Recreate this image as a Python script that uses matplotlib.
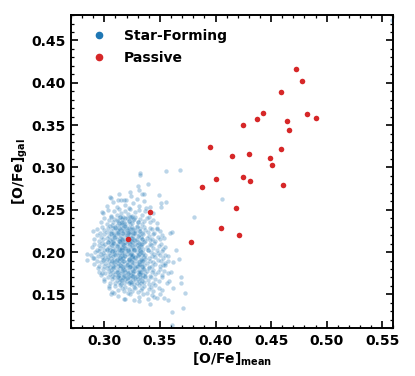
import matplotlib
matplotlib.use("Agg")
import matplotlib.pyplot as plt
from matplotlib.ticker import MultipleLocator
from matplotlib.lines import Line2D

# ---------------- data ----------------
# Passive galaxies
passive_x = [0.472, 0.478, 0.459, 0.443, 0.437, 0.482, 0.490, 0.464, 0.425, 0.466,
             0.395, 0.459, 0.430, 0.415, 0.449, 0.451, 0.400, 0.425, 0.431, 0.388,
             0.461, 0.418, 0.341, 0.405, 0.421, 0.321, 0.378]
passive_y = [0.4165, 0.4024, 0.3886, 0.3642, 0.3575, 0.3626, 0.3579, 0.3551, 0.3496, 0.3445,
             0.3244, 0.3220, 0.3161, 0.3130, 0.3110, 0.3031, 0.2858, 0.2890, 0.2843, 0.2768,
             0.2787, 0.2520, 0.2469, 0.2287, 0.2197, 0.2157, 0.2122]

# Star-forming galaxies (read band by band from the cloud)
sf_x = [
    0.306, 0.313, 0.318, 0.324, 0.329, 0.334,
    0.302, 0.308, 0.311, 0.315, 0.319, 0.322, 0.326, 0.331, 0.336, 0.341,
    0.299, 0.303, 0.306, 0.309, 0.311, 0.313, 0.315, 0.317, 0.319, 0.321,
    0.323, 0.325, 0.328, 0.331, 0.334, 0.337, 0.340, 0.344,
    0.297, 0.300, 0.302, 0.304, 0.306, 0.308, 0.309, 0.311, 0.312, 0.314,
    0.315, 0.316, 0.318, 0.319, 0.320, 0.322, 0.323, 0.325, 0.326, 0.328,
    0.330, 0.332, 0.334, 0.336, 0.338, 0.341, 0.344, 0.347,
    0.293, 0.296, 0.298, 0.300, 0.302, 0.303, 0.305, 0.306, 0.308, 0.309,
    0.310, 0.311, 0.312, 0.313, 0.314, 0.315, 0.316, 0.317, 0.318, 0.319,
    0.320, 0.321, 0.322, 0.323, 0.324, 0.325, 0.326, 0.328, 0.329, 0.331,
    0.332, 0.334, 0.336, 0.337, 0.339, 0.341, 0.343, 0.345, 0.347, 0.350,
    0.291, 0.293, 0.295, 0.297, 0.299, 0.300, 0.302, 0.303, 0.304, 0.305,
    0.306, 0.307, 0.308, 0.309, 0.310, 0.311, 0.312, 0.313, 0.314, 0.315,
    0.316, 0.317, 0.318, 0.319, 0.320, 0.321, 0.322, 0.323, 0.324, 0.325,
    0.326, 0.327, 0.328, 0.329, 0.330, 0.331, 0.333, 0.334, 0.335, 0.337,
    0.338, 0.340, 0.341, 0.343, 0.344, 0.346, 0.348, 0.350, 0.352, 0.354,
    0.289, 0.291, 0.293, 0.295, 0.296, 0.298, 0.299, 0.300, 0.301, 0.302,
    0.303, 0.304, 0.305, 0.306, 0.307, 0.308, 0.309, 0.310, 0.311, 0.312,
    0.313, 0.314, 0.315, 0.316, 0.317, 0.318, 0.319, 0.320, 0.321, 0.322,
    0.323, 0.324, 0.325, 0.326, 0.327, 0.328, 0.329, 0.330, 0.331, 0.332,
    0.333, 0.334, 0.335, 0.336, 0.338, 0.339, 0.341, 0.342, 0.344, 0.345,
    0.347, 0.349, 0.351, 0.353, 0.355,
    0.288, 0.290, 0.292, 0.294, 0.295, 0.297, 0.298, 0.299, 0.300, 0.301,
    0.302, 0.303, 0.304, 0.305, 0.306, 0.307, 0.308, 0.309, 0.310, 0.311,
    0.312, 0.313, 0.314, 0.315, 0.316, 0.317, 0.318, 0.319, 0.320, 0.321,
    0.322, 0.323, 0.324, 0.325, 0.326, 0.327, 0.328, 0.329, 0.330, 0.331,
    0.332, 0.333, 0.334, 0.335, 0.336, 0.337, 0.339, 0.340, 0.342, 0.343,
    0.345, 0.346, 0.348, 0.350, 0.352, 0.353, 0.355, 0.357,
    0.291, 0.293, 0.295, 0.297, 0.299, 0.300, 0.301, 0.302, 0.303, 0.304,
    0.305, 0.306, 0.307, 0.308, 0.309, 0.310, 0.311, 0.312, 0.313, 0.314,
    0.315, 0.316, 0.317, 0.318, 0.319, 0.320, 0.321, 0.322, 0.323, 0.324,
    0.325, 0.326, 0.327, 0.328, 0.329, 0.330, 0.331, 0.332, 0.333, 0.334,
    0.335, 0.336, 0.337, 0.338, 0.340, 0.341, 0.343, 0.344, 0.346, 0.348,
    0.350, 0.351, 0.353, 0.355, 0.357,
    0.295, 0.297, 0.299, 0.301, 0.302, 0.304, 0.305, 0.306, 0.307, 0.308,
    0.309, 0.310, 0.311, 0.312, 0.313, 0.314, 0.315, 0.316, 0.317, 0.318,
    0.319, 0.320, 0.321, 0.322, 0.323, 0.324, 0.325, 0.326, 0.327, 0.328,
    0.329, 0.330, 0.331, 0.332, 0.333, 0.334, 0.335, 0.336, 0.337, 0.338,
    0.340, 0.341, 0.343, 0.344, 0.346, 0.348, 0.350, 0.352, 0.354, 0.357,
    0.300, 0.303, 0.305, 0.307, 0.309, 0.310, 0.311, 0.312, 0.313, 0.314,
    0.315, 0.316, 0.317, 0.318, 0.319, 0.320, 0.321, 0.322, 0.323, 0.324,
    0.325, 0.326, 0.327, 0.328, 0.329, 0.330, 0.331, 0.332, 0.333, 0.334,
    0.336, 0.337, 0.339, 0.340, 0.342, 0.344, 0.346, 0.349, 0.352, 0.356,
    0.304, 0.307, 0.310, 0.312, 0.314, 0.316, 0.318, 0.319, 0.321, 0.322,
    0.324, 0.325, 0.327, 0.328, 0.330, 0.331, 0.333, 0.334, 0.336, 0.338,
    0.340, 0.342, 0.344, 0.346, 0.349, 0.352,
    0.312, 0.318, 0.323, 0.327, 0.331, 0.335, 0.339, 0.343, 0.347,
    0.307, 0.310, 0.313, 0.315, 0.318, 0.320, 0.323, 0.326, 0.329, 0.332,
    0.306, 0.309, 0.312, 0.316, 0.319, 0.321, 0.324, 0.327, 0.330, 0.334,
    0.308, 0.311, 0.314, 0.317, 0.319, 0.322, 0.325, 0.328, 0.331, 0.333,
    0.307, 0.310, 0.313, 0.316, 0.318, 0.321, 0.324, 0.327, 0.330, 0.333,
    0.309, 0.312, 0.314, 0.317, 0.320, 0.322, 0.325, 0.328, 0.331, 0.334,
    0.308, 0.311, 0.315, 0.318, 0.321, 0.323, 0.326, 0.329, 0.332, 0.335,
    0.312, 0.315, 0.318, 0.320, 0.323, 0.326, 0.328, 0.331, 0.334, 0.337,
    0.311, 0.314, 0.316, 0.319, 0.322, 0.324, 0.327, 0.330, 0.316, 0.325,
    0.3558, 0.3684, 0.3319, 0.3320, 0.3300, 0.3389, 0.3235, 0.3316, 0.3355, 0.3491,
    0.3054, 0.3124, 0.3199, 0.3558, 0.3510, 0.3513, 0.3371, 0.4055, 0.3805, 0.2976,
    0.3473, 0.3588, 0.3609, 0.2894, 0.3648, 0.3669, 0.2846, 0.2843, 0.3621, 0.3693,
    0.3693, 0.3723, 0.3576, 0.3533, 0.3413, 0.3316, 0.3187, 0.3060, 0.3708, 0.3606,
    0.3606, 0.5583,
    0.355, 0.360, 0.358, 0.362, 0.350, 0.345, 0.298, 0.300, 0.294, 0.304,
    0.309, 0.291,
]
sf_y = [
    0.264, 0.268, 0.262, 0.266, 0.263, 0.269,
    0.255, 0.259, 0.253, 0.261, 0.256, 0.252, 0.258, 0.254, 0.260, 0.253,
    0.246, 0.250, 0.243, 0.248, 0.244, 0.251, 0.246, 0.242, 0.249, 0.245,
    0.251, 0.243, 0.247, 0.250, 0.244, 0.248, 0.242, 0.246,
    0.236, 0.240, 0.233, 0.238, 0.241, 0.235, 0.239, 0.232, 0.237, 0.241,
    0.234, 0.239, 0.236, 0.233, 0.240, 0.237, 0.242, 0.234, 0.238, 0.241,
    0.235, 0.239, 0.233, 0.237, 0.240, 0.235, 0.238, 0.234,
    0.227, 0.223, 0.230, 0.226, 0.224, 0.229, 0.231, 0.225, 0.228, 0.222,
    0.230, 0.226, 0.224, 0.229, 0.227, 0.232, 0.223, 0.228, 0.225, 0.231,
    0.226, 0.222, 0.229, 0.224, 0.227, 0.230, 0.223, 0.226, 0.231, 0.225,
    0.228, 0.223, 0.230, 0.226, 0.224, 0.229, 0.227, 0.223, 0.228, 0.225,
    0.216, 0.220, 0.213, 0.218, 0.215, 0.221, 0.217, 0.212, 0.219, 0.214,
    0.222, 0.216, 0.213, 0.220, 0.218, 0.215, 0.221, 0.213, 0.217, 0.219,
    0.214, 0.222, 0.216, 0.212, 0.220, 0.218, 0.215, 0.221, 0.213, 0.217,
    0.219, 0.214, 0.222, 0.216, 0.212, 0.220, 0.218, 0.215, 0.221, 0.213,
    0.217, 0.219, 0.214, 0.216, 0.221, 0.213, 0.218, 0.215, 0.220, 0.217,
    0.206, 0.210, 0.203, 0.208, 0.205, 0.211, 0.207, 0.202, 0.209, 0.204,
    0.212, 0.206, 0.203, 0.210, 0.208, 0.205, 0.211, 0.203, 0.207, 0.209,
    0.204, 0.212, 0.206, 0.202, 0.210, 0.208, 0.205, 0.211, 0.203, 0.207,
    0.209, 0.204, 0.212, 0.206, 0.202, 0.210, 0.208, 0.205, 0.211, 0.203,
    0.207, 0.209, 0.204, 0.212, 0.206, 0.203, 0.210, 0.208, 0.205, 0.211,
    0.203, 0.207, 0.209, 0.204, 0.206,
    0.197, 0.193, 0.200, 0.195, 0.201, 0.198, 0.194, 0.199, 0.192, 0.196,
    0.202, 0.194, 0.199, 0.197, 0.193, 0.201, 0.195, 0.198, 0.200, 0.192,
    0.196, 0.199, 0.194, 0.202, 0.197, 0.193, 0.200, 0.195, 0.198, 0.201,
    0.192, 0.196, 0.199, 0.194, 0.197, 0.202, 0.193, 0.200, 0.195, 0.198,
    0.201, 0.192, 0.196, 0.199, 0.194, 0.197, 0.202, 0.193, 0.200, 0.195,
    0.198, 0.194, 0.199, 0.196, 0.201, 0.193, 0.197, 0.195,
    0.186, 0.190, 0.183, 0.188, 0.191, 0.184, 0.187, 0.192, 0.185, 0.189,
    0.182, 0.187, 0.190, 0.184, 0.188, 0.186, 0.191, 0.183, 0.189, 0.185,
    0.192, 0.187, 0.182, 0.190, 0.184, 0.188, 0.186, 0.191, 0.183, 0.189,
    0.185, 0.192, 0.187, 0.182, 0.190, 0.184, 0.188, 0.186, 0.191, 0.183,
    0.189, 0.185, 0.192, 0.187, 0.182, 0.190, 0.184, 0.188, 0.186, 0.191,
    0.183, 0.189, 0.185, 0.187, 0.190,
    0.177, 0.173, 0.180, 0.175, 0.181, 0.178, 0.174, 0.179, 0.172, 0.176,
    0.182, 0.174, 0.179, 0.177, 0.173, 0.181, 0.175, 0.178, 0.180, 0.172,
    0.176, 0.179, 0.174, 0.182, 0.177, 0.173, 0.180, 0.175, 0.178, 0.181,
    0.172, 0.176, 0.179, 0.174, 0.177, 0.182, 0.173, 0.180, 0.175, 0.178,
    0.181, 0.172, 0.176, 0.179, 0.174, 0.177, 0.180, 0.173, 0.178, 0.175,
    0.166, 0.170, 0.163, 0.168, 0.171, 0.164, 0.167, 0.172, 0.165, 0.169,
    0.162, 0.167, 0.170, 0.164, 0.168, 0.166, 0.171, 0.163, 0.169, 0.165,
    0.172, 0.167, 0.162, 0.170, 0.164, 0.168, 0.166, 0.171, 0.163, 0.169,
    0.165, 0.172, 0.167, 0.162, 0.170, 0.164, 0.168, 0.166, 0.171, 0.163,
    0.157, 0.153, 0.160, 0.155, 0.161, 0.158, 0.154, 0.159, 0.152, 0.156,
    0.162, 0.154, 0.159, 0.157, 0.153, 0.161, 0.155, 0.158, 0.160, 0.152,
    0.156, 0.159, 0.154, 0.161, 0.157, 0.155,
    0.148, 0.145, 0.150, 0.143, 0.147, 0.151, 0.144, 0.149, 0.146,
    0.232, 0.228, 0.234, 0.226, 0.231, 0.229, 0.233, 0.227, 0.230, 0.225,
    0.221, 0.218, 0.223, 0.216, 0.220, 0.224, 0.217, 0.222, 0.219, 0.215,
    0.211, 0.207, 0.213, 0.209, 0.205, 0.212, 0.208, 0.214, 0.206, 0.210,
    0.201, 0.197, 0.203, 0.199, 0.195, 0.202, 0.198, 0.204, 0.196, 0.200,
    0.191, 0.187, 0.193, 0.189, 0.185, 0.192, 0.188, 0.194, 0.186, 0.190,
    0.181, 0.177, 0.183, 0.179, 0.175, 0.182, 0.178, 0.184, 0.176, 0.180,
    0.171, 0.167, 0.173, 0.169, 0.165, 0.172, 0.168, 0.174, 0.166, 0.170,
    0.238, 0.242, 0.236, 0.240, 0.237, 0.241, 0.239, 0.235, 0.205, 0.195,
    0.2953, 0.2965, 0.2930, 0.2906, 0.2776, 0.2803, 0.2709, 0.2736, 0.2685, 0.2669,
    0.2646, 0.2614, 0.2618, 0.2595, 0.2579, 0.2531, 0.2524, 0.2626, 0.2413, 0.2469,
    0.2272, 0.2228, 0.2232, 0.2244, 0.2028, 0.1913, 0.1980, 0.1902, 0.1886, 0.1709,
    0.1634, 0.1516, 0.1433, 0.1457, 0.1390, 0.1417, 0.1449, 0.1500, 0.1339, 0.1291,
    0.1142, 0.4736,
    0.185, 0.176, 0.166, 0.158, 0.150, 0.147, 0.175, 0.168, 0.181, 0.160,
    0.152, 0.193,
]

x_ticks = [0.30, 0.35, 0.40, 0.45, 0.50, 0.55]
y_ticks = [0.15, 0.20, 0.25, 0.30, 0.35, 0.40, 0.45]
legend_labels = ["Star-Forming", "Passive"]

# ---------------- plot ----------------
plt.rcParams['font.family'] = ['DejaVu Sans']
plt.rcParams['mathtext.default'] = 'bf'

fig = plt.figure(figsize=(4.15, 3.76), dpi=100)
ax = fig.add_axes([0.171, 0.127, 0.777, 0.833])

blue = '#1f77b4'
red = '#d62728'

ax.scatter(sf_x, sf_y, s=10, color=blue, alpha=0.3, linewidths=0, zorder=2)
ax.scatter(passive_x, passive_y, s=16, color=red, linewidths=0, zorder=3)

ax.set_xlim(0.27, 0.56)
ax.set_ylim(0.11, 0.48)
ax.set_xticks(x_ticks)
ax.set_yticks(y_ticks)
ax.set_xticklabels([f"{v:.2f}" for v in x_ticks], fontweight='bold', fontsize=10)
ax.set_yticklabels([f"{v:.2f}" for v in y_ticks], fontweight='bold', fontsize=10)
ax.xaxis.set_minor_locator(MultipleLocator(0.01))
ax.yaxis.set_minor_locator(MultipleLocator(0.01))
ax.tick_params(which='both', direction='in', top=True, right=True)
ax.tick_params(which='major', length=5, width=1.2, pad=4)
ax.tick_params(which='minor', length=2.5, width=0.9)
for sp in ax.spines.values():
    sp.set_linewidth(1.4)

ax.set_xlabel(r'$[O/Fe]_{mean}$', fontsize=10, labelpad=2)
ax.set_ylabel(r'$[O/Fe]_{gal}$', fontsize=10, labelpad=1)

handles = [Line2D([], [], marker='o', ls='', color=blue, markersize=4.5),
           Line2D([], [], marker='o', ls='', color=red, markersize=4.5)]
ax.legend(handles, legend_labels, loc='upper left', frameon=False,
          prop={'weight': 'bold', 'size': 10}, labelspacing=0.55,
          borderaxespad=0.6)

fig.savefig('out.png', dpi=100)
